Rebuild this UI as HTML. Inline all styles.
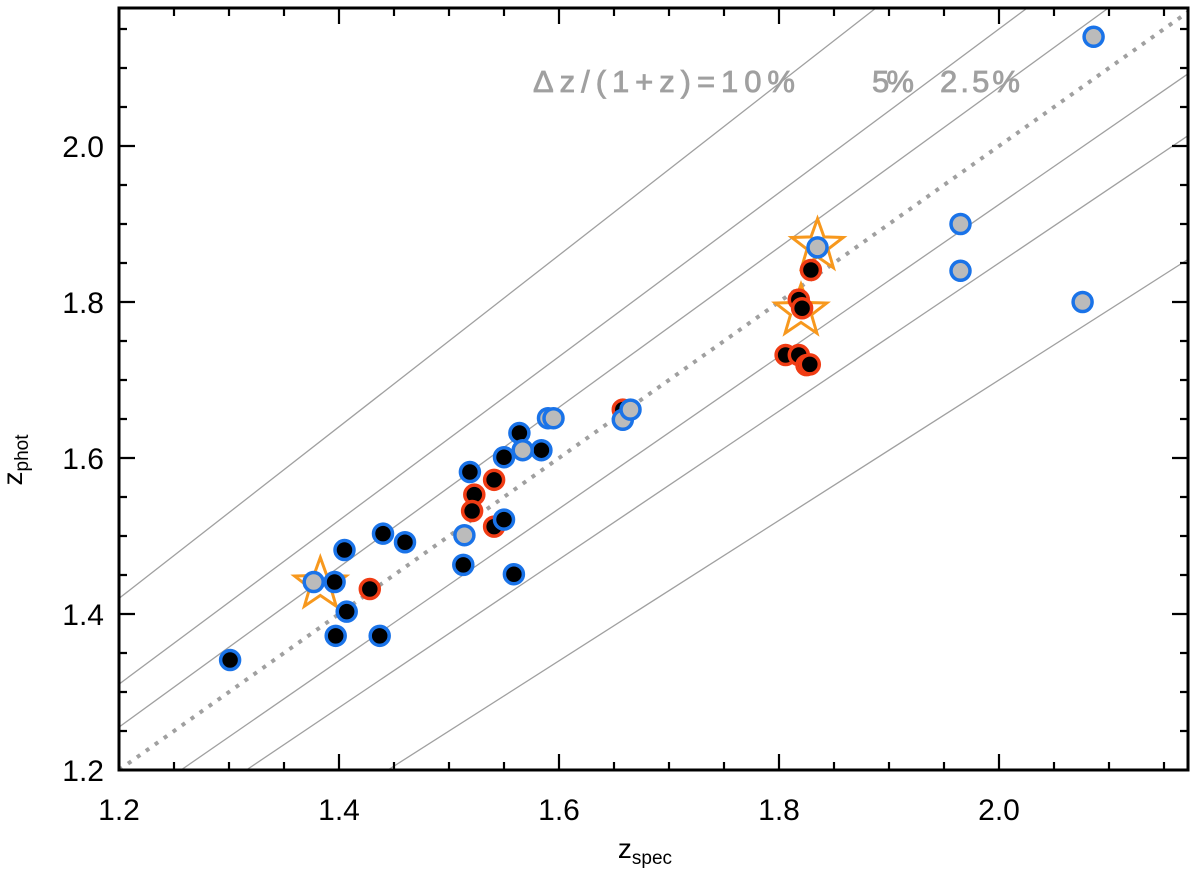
<!DOCTYPE html>
<html><head><meta charset="utf-8"><style>
html,body{margin:0;padding:0;background:#fff;overflow:hidden;width:1200px;height:880px;}
svg{display:block;}
svg text{font-family:"Liberation Sans",sans-serif;}
</style></head><body>
<svg id="chart" width="1200" height="880" xmlns="http://www.w3.org/2000/svg">
<g id="lines"></g>
<g id="marks"></g>
<g id="axes"></g>
<text x="533" y="92" font-size="31" fill="#a0a0a0" stroke="#a0a0a0" stroke-width="0.8" textLength="262" lengthAdjust="spacing">Δz/(1+z)=10%</text>
<text x="872" y="92" font-size="31" fill="#a0a0a0" stroke="#a0a0a0" stroke-width="0.8" textLength="42" lengthAdjust="spacing">5%</text>
<text x="940" y="92" font-size="31" fill="#a0a0a0" stroke="#a0a0a0" stroke-width="0.8" textLength="80" lengthAdjust="spacing">2.5%</text>
<text x="645" y="858" font-size="28" text-anchor="middle">z<tspan font-size="19" dy="6">spec</tspan></text>
<text transform="translate(22,460) rotate(-90)" font-size="28" text-anchor="middle">z<tspan font-size="19" dy="6">phot</tspan></text>
</svg>
<script>
const xTicks=[1.2,1.4,1.6,1.8,2.0];
const yTicks=[1.2,1.4,1.6,1.8,2.0];
const fractions=[0.025,0.05,0.1];
const blueBlackX=[1.301,1.396,1.405,1.407,1.397,1.437,1.440,1.460,1.519,1.513,1.550,1.564,1.584,1.559,1.550];
const blueBlackY=[1.341,1.441,1.482,1.403,1.372,1.372,1.503,1.492,1.582,1.463,1.601,1.632,1.610,1.451,1.521];
const redX=[1.428,1.541,1.523,1.521,1.541,1.658,1.829,1.818,1.821,1.806,1.818,1.825,1.828];
const redY=[1.432,1.572,1.553,1.532,1.512,1.662,1.841,1.803,1.792,1.732,1.732,1.719,1.720];
const blueGrayX=[1.377,1.514,1.567,1.590,1.595,1.658,1.665,1.835,1.965,1.965,2.076,2.086];
const blueGrayY=[1.441,1.501,1.610,1.651,1.651,1.649,1.662,1.870,1.900,1.840,1.800,2.140];
const starX=[1.383,1.835,1.820];
const starY=[1.438,1.872,1.788];
const X=v=>119+(v-1.2)*1100;
const Y=v=>770-(v-1.2)*780;
const XMIN=1.2,XMAX=1.2+1069/1100,YMIN=1.2,YMAX=1.2+762/780;
const NS="http://www.w3.org/2000/svg";
function mk(parent,tag,attrs){const e=document.createElementNS(NS,tag);for(const k in attrs)e.setAttribute(k,attrs[k]);document.getElementById(parent).appendChild(e);return e;}
// line y = a*x + b clipped to box
function seg(a,b){let lo=Math.max(XMIN,(YMIN-b)/a),hi=Math.min(XMAX,(YMAX-b)/a);return {x1:X(lo),y1:Y(a*lo+b),x2:X(hi),y2:Y(a*hi+b)};}
let s0=seg(1,0);
let l=mk('lines','line',Object.assign(s0,{stroke:'#a0a0a0','stroke-width':4,'stroke-dasharray':'4,7'}));


fractions.forEach(f=>{[1,-1].forEach(s=>{
 const g=seg(1+s*f,s*f);
 const e=mk('lines','line',Object.assign(g,{stroke:'#a0a0a0','stroke-width':1.3}));
 
 
});});
function circles(xs,ys,stroke,fill,name){xs.forEach((x,i)=>{
 const c=mk('marks','circle',{cx:X(x),cy:Y(ys[i]),r:9.5,fill:fill,stroke:stroke,'stroke-width':3.5});
 
 
});}
function star(cx,cy){const pts=[];for(let i=0;i<10;i++){const r=i%2?11:27;const a=-Math.PI/2+i*Math.PI/5;pts.push((cx+r*Math.cos(a)).toFixed(1)+','+(cy+r*Math.sin(a)).toFixed(1));}return pts.join(' ');}
starX.forEach((x,i)=>{
 const s=mk('marks','polygon',{points:star(X(x),Y(starY[i])),fill:'none',stroke:'#f7981d','stroke-width':3});
 
 
});
circles(redX,redY,'#f03c14','#000','red-point');
circles(blueBlackX,blueBlackY,'#1a73e8','#000','blue-black-point');
circles(blueGrayX,blueGrayY,'#1a73e8','#bbbbbb','blue-gray-point');
let fr=mk('axes','rect',{x:119,y:8,width:1069,height:762,fill:'none',stroke:'#000','stroke-width':3});


for(let v=1.2;v<=2.17;v+=0.05){const x=X(v);const maj=Math.abs((v-1.2)/0.2-Math.round((v-1.2)/0.2))<0.01;const L=maj?16:8;
 const t=mk('axes','path',{d:`M${x},770V${770-L}M${x},8V${8+L}`,stroke:'#000','stroke-width':2.2});
 
 }
for(let v=1.2;v<=2.18;v+=0.05){const y=Y(v);const maj=Math.abs((v-1.2)/0.2-Math.round((v-1.2)/0.2))<0.01;const L=maj?16:8;
 const t=mk('axes','path',{d:`M119,${y}H${119+L}M1188,${y}H${1188-L}`,stroke:'#000','stroke-width':2.2});
 
 }
xTicks.forEach(v=>{const t=mk('axes','text',{x:X(v),y:820,'font-size':30,'text-anchor':'middle'});t.textContent=v.toFixed(1);
 
 });
yTicks.forEach(v=>{const t=mk('axes','text',{x:104,y:Y(v)+11,'font-size':30,'text-anchor':'end'});t.textContent=v.toFixed(1);
 
 });
</script>
</body></html>
